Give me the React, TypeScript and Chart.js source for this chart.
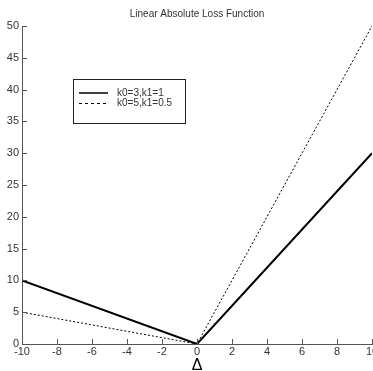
import React, { useEffect, useRef } from "react";
import { Chart, registerables } from "chart.js";

Chart.register(...registerables);

const titleText = "Linear Absolute Loss Function";
const xLabel = "Δ";
const xValues = [-10, 0, 10];
const series1Label = "k0=3,k1=1";
const series1 = [10, 0, 30];
const series2Label = "k0=5,k1=0.5";
const series2 = [5, 0, 50];
const xTicks = [-10, -8, -6, -4, -2, 0, 2, 4, 6, 8, 10];
const yTicks = [0, 5, 10, 15, 20, 25, 30, 35, 40, 45, 50];

const AXIS_COLOR = "#555";
const TEXT_COLOR = "#333";
const FONT = "Arial, 'Liberation Sans', sans-serif";

const decorPlugin = {
  id: "decor",
  afterDraw(chart: any) {
    const { ctx, chartArea, scales } = chart;
    const xs = scales.x;
    const ys = scales.y;
    ctx.save();
    // inward tick marks
    ctx.strokeStyle = AXIS_COLOR;
    ctx.lineWidth = 1;
    ctx.beginPath();
    xTicks.forEach((v) => {
      const px = Math.round(xs.getPixelForValue(v)) + 0.5;
      ctx.moveTo(px, chartArea.bottom);
      ctx.lineTo(px, chartArea.bottom - 5);
    });
    yTicks.forEach((v) => {
      const py = Math.round(ys.getPixelForValue(v)) + 0.5;
      ctx.moveTo(chartArea.left, py);
      ctx.lineTo(chartArea.left + 5, py);
    });
    ctx.stroke();

    // title
    ctx.fillStyle = TEXT_COLOR;
    ctx.font = `10px ${FONT}`;
    ctx.textAlign = "center";
    ctx.textBaseline = "middle";
    ctx.fillText(titleText, (chartArea.left + chartArea.right) / 2, 14);

    // x axis label
    ctx.fillStyle = "#000";
    ctx.font = `16px ${FONT}`;
    ctx.textAlign = "center";
    ctx.textBaseline = "alphabetic";
    ctx.fillText(xLabel, xs.getPixelForValue(0), 370);

    // legend box
    const bx = 73.5, by = 79.5, bw = 112, bh = 44;
    ctx.fillStyle = "#fff";
    ctx.fillRect(bx, by, bw, bh);
    ctx.strokeStyle = "#222";
    ctx.lineWidth = 1;
    ctx.strokeRect(bx, by, bw, bh);
    const ds = chart.data.datasets;
    const rows = [93, 103.5];
    ds.forEach((d: any, i: number) => {
      ctx.save();
      ctx.strokeStyle = d.borderColor;
      ctx.lineWidth = i === 0 ? 1.5 : 1;
      ctx.setLineDash(i === 0 ? [] : [3, 3]);
      ctx.beginPath();
      ctx.moveTo(79, rows[i]);
      ctx.lineTo(108, rows[i]);
      ctx.stroke();
      ctx.restore();
      ctx.fillStyle = TEXT_COLOR;
      ctx.font = `10px ${FONT}`;
      ctx.textAlign = "left";
      ctx.textBaseline = "middle";
      ctx.fillText(d.label, 117, rows[i]);
    });
    ctx.restore();
  },
};

export default function App() {
  const ref = useRef<HTMLCanvasElement>(null);
  useEffect(() => {
    document.body.style.margin = "0";
    const canvas = ref.current!;
    const chart = new Chart(canvas, {
      type: "line",
      data: {
        datasets: [
          {
            label: series1Label,
            data: xValues.map((x, i) => ({ x, y: series1[i] })),
            borderColor: "#000",
            borderWidth: 2,
            pointRadius: 0,
            tension: 0,
          },
          {
            label: series2Label,
            data: xValues.map((x, i) => ({ x, y: series2[i] })),
            borderColor: "#000",
            borderWidth: 1,
            borderDash: [2, 2],
            pointRadius: 0,
            tension: 0,
          },
        ],
      },
      options: {
        responsive: false,
        animation: false,
        layout: { padding: { left: 0, right: 14, top: 26, bottom: 0 } },
        plugins: {
          legend: { display: false },
          title: { display: false },
          tooltip: { enabled: false },
        },
        scales: {
          x: {
            type: "linear",
            min: -10,
            max: 10,
            afterFit: (s: any) => {
              s.height = 27;
            },
            afterBuildTicks: (s: any) => {
              s.ticks = xTicks.map((v) => ({ value: v }));
            },
            grid: { display: false, drawTicks: false },
            border: { display: true, color: AXIS_COLOR, width: 1 },
            ticks: {
              color: TEXT_COLOR,
              font: { family: FONT, size: 11 },
              padding: 1,
              maxRotation: 0,
              autoSkip: false,
            },
          },
          y: {
            type: "linear",
            min: 0,
            max: 50,
            afterFit: (s: any) => {
              s.width = 22;
            },
            afterBuildTicks: (s: any) => {
              s.ticks = yTicks.map((v) => ({ value: v }));
            },
            grid: { display: false, drawTicks: false },
            border: { display: true, color: AXIS_COLOR, width: 1 },
            ticks: {
              color: TEXT_COLOR,
              font: { family: FONT, size: 11 },
              padding: 3,
              autoSkip: false,
            },
          },
        },
      },
      plugins: [decorPlugin],
    });
    return () => chart.destroy();
  }, []);
  return (
    <div
      style={{
        position: "absolute",
        left: 0,
        top: 0,
        width: 373,
        height: 371,
        overflow: "hidden",
        background: "#fff",
      }}
    >
      <canvas ref={ref} width={386} height={371} style={{ width: 386, height: 371, display: "block" }} />
    </div>
  );
}
